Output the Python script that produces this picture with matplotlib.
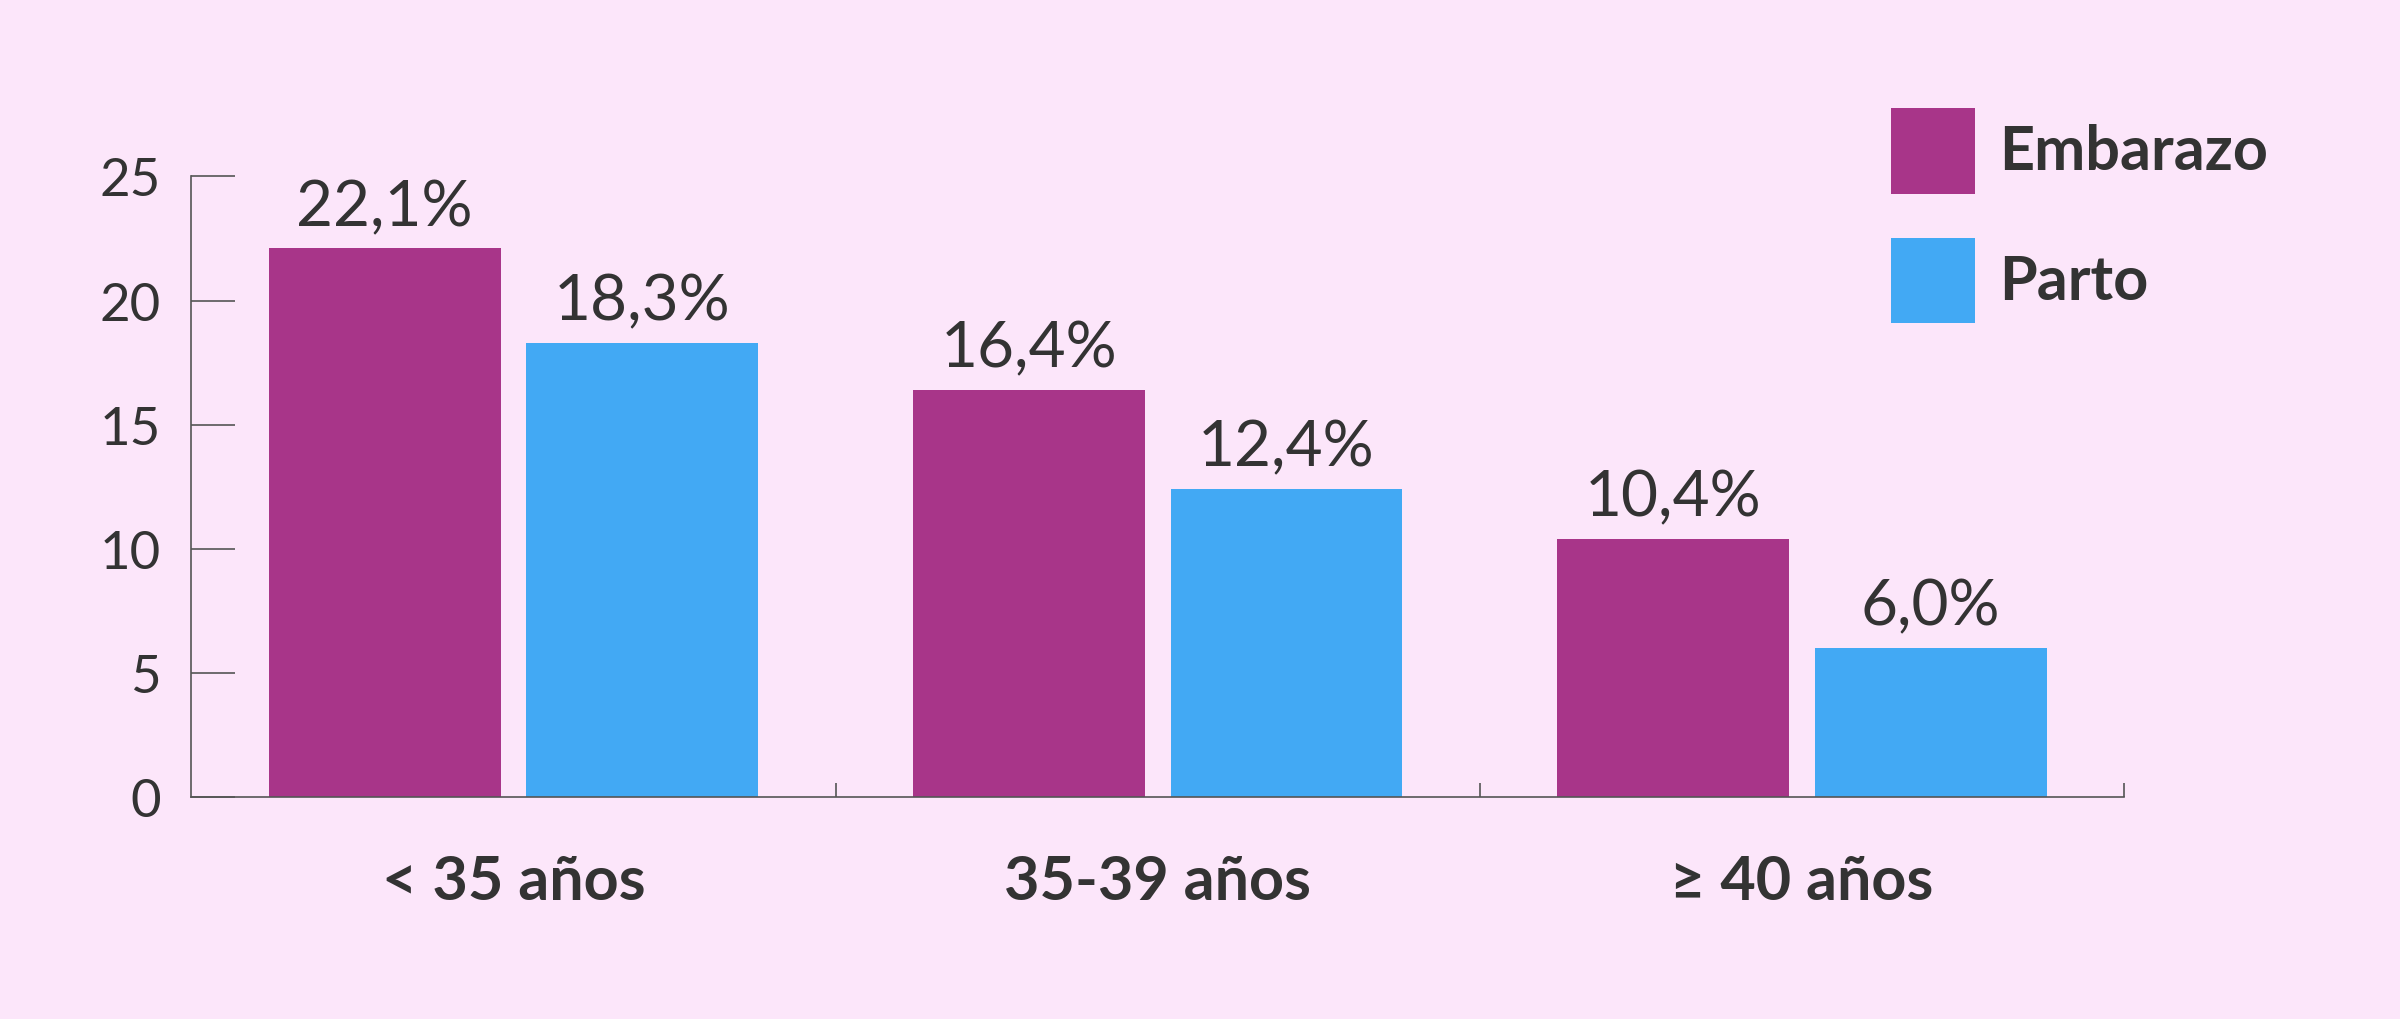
import matplotlib
matplotlib.use("Agg")
import matplotlib.pyplot as plt
from matplotlib.patches import Rectangle
import numpy as np

categories = ["< 35 años", "35-39 años", "≥ 40 años"]
embarazo = [22.1, 16.4, 10.4]
parto = [18.3, 12.4, 6.0]
series_names = ["Embarazo", "Parto"]
yticks = [0, 5, 10, 15, 20, 25]

bg = "#FCE6FA"
c1, c2 = "#A83589", "#42A9F4"
tc = "#333333"
plt.rcParams['font.family'] = ['Lato', 'DejaVu Sans']

fig = plt.figure(figsize=(24, 10.2), dpi=100, facecolor=bg)
ax = fig.add_axes([0.0797, 0.2177, 0.8053, 0.6083])
ax.set_facecolor(bg)
x = np.arange(len(categories))
w = 0.36
b1 = ax.bar(x - 0.2, embarazo, w, color=c1)
b2 = ax.bar(x + 0.2, parto, w, color=c2)
for bars, vals in ((b1, embarazo), (b2, parto)):
    for r, v in zip(bars, vals):
        ax.text(r.get_x() + r.get_width() / 2, v + 0.5, f"{v:.1f}%".replace(".", ","),
                ha="center", va="bottom", fontsize=46, color=tc)
ax.set_xlim(-0.5, 2.5)
ax.set_ylim(0, 25)
ax.set_yticks(yticks)
ax.tick_params(axis="y", direction="in", length=32, width=1.2, color="#555555",
               labelsize=38, labelcolor=tc, pad=22)
ax.set_xticks(x)
ax.set_xticklabels(categories, fontsize=44, fontweight="bold", color=tc)
ax.tick_params(axis="x", length=0, pad=40)
ax.set_xticks([0.5, 1.5, 2.5], minor=True)
ax.tick_params(axis="x", which="minor", direction="in", length=10, width=1.2, color="#555555")
for s in ("top", "right"):
    ax.spines[s].set_visible(False)
for s in ("left", "bottom"):
    ax.spines[s].set_color("#555555")
    ax.spines[s].set_linewidth(1.2)

for i, (name, col) in enumerate(zip(series_names, (c1, c2))):
    y0 = 0.809 - i * 0.127
    fig.patches.append(Rectangle((0.788, y0), 0.0351, 0.084, transform=fig.transFigure,
                                 facecolor=col, edgecolor="none"))
    fig.text(0.833, y0 + 0.042, name, fontsize=44, fontweight="bold", color=tc, va="center")

fig.savefig("out.png", facecolor=bg)
